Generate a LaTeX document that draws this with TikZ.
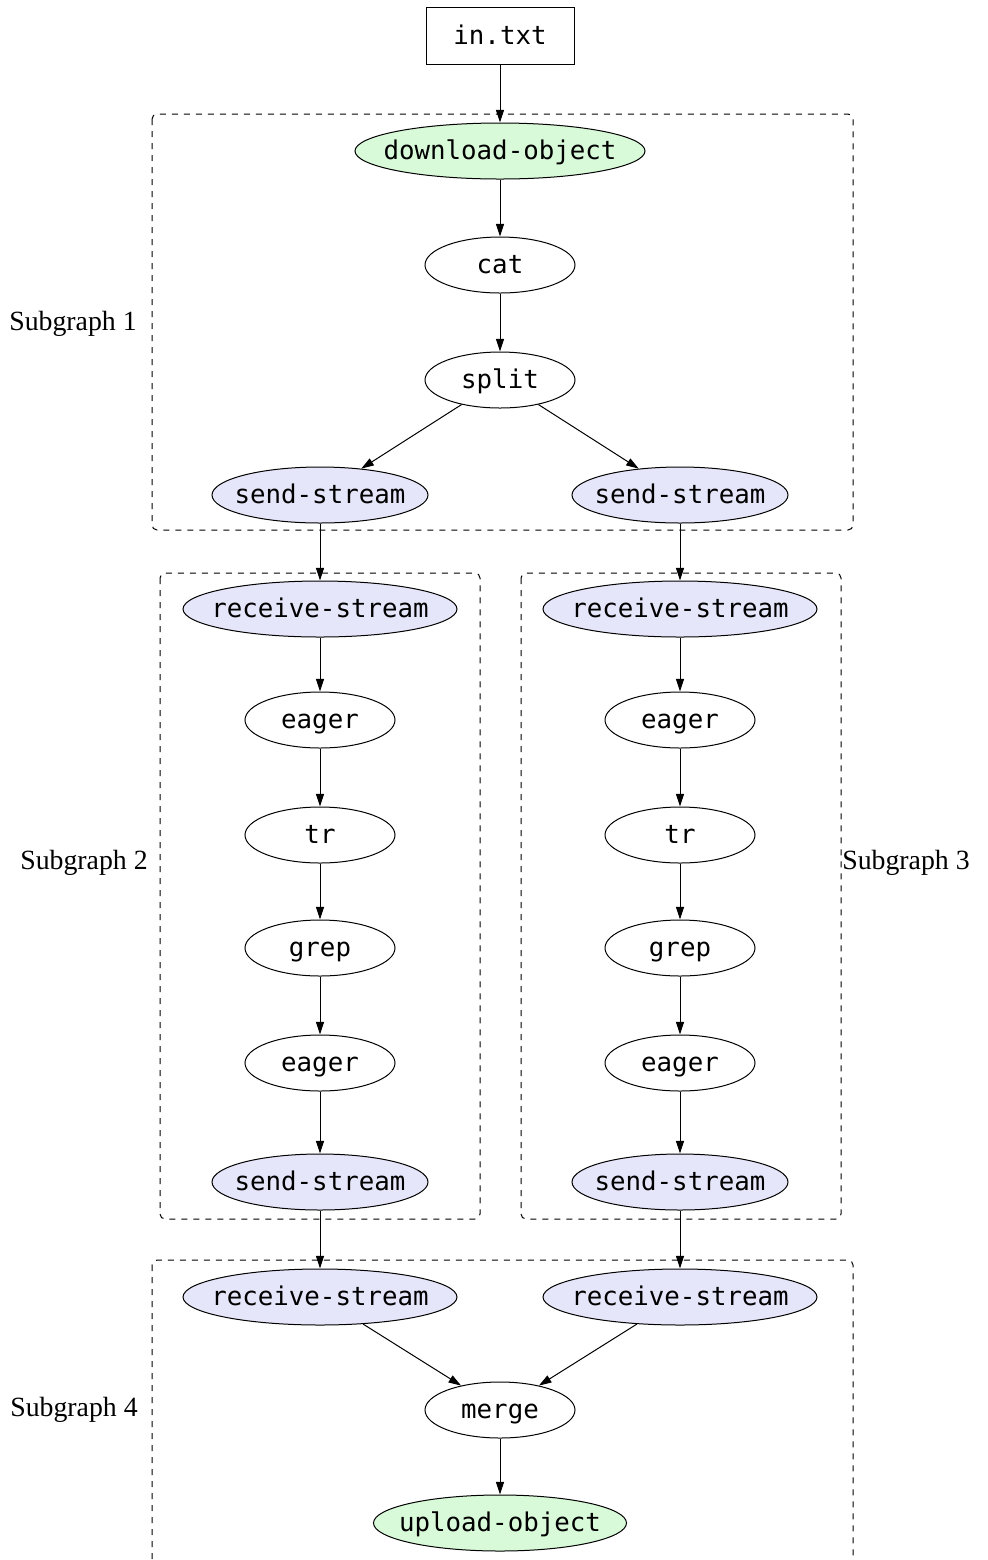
\documentclass[tikz,border=0pt]{standalone}
\usepackage{fontspec}
\setmainfont{Liberation Serif}
\setmonofont{DejaVu Sans Mono}
\usetikzlibrary{arrows.meta,shapes}
\definecolor{vert}{RGB}{217,250,217}
\definecolor{lavande}{RGB}{230,230,250}
\tikzstyle{proc}=[ellipse, draw=black, line width=0.5pt, inner sep=-10pt, minimum width=75pt, minimum height=28pt, text height=10pt, text depth=2pt, font=\fontsize{12.9}{15}\selectfont\ttfamily]
\tikzstyle{io}=[proc, fill=vert]
\tikzstyle{flux}=[proc, fill=lavande, minimum width=108pt]
\tikzstyle{fichier}=[rectangle, draw=black, line width=0.5pt, inner sep=0pt, minimum width=74pt, minimum height=28.5pt, text height=10pt, text depth=2pt, font=\fontsize{12.9}{15}\selectfont\ttfamily]
\tikzstyle{groupe}=[draw, dashed, rounded corners=2.5pt, line width=0.5pt]
\tikzstyle{etiq}=[font=\fontsize{13.9}{16}\selectfont]
\newcommand{\fl}[2]{ \draw[->] (#1) -- (#2); }

\begin{document}
\begin{tikzpicture}[x=0.5pt,y=-0.5pt,>={Triangle[length=6.3pt,width=4pt]},line width=0.5pt]
 \useasboundingbox (0,0) rectangle (987,1560);
 \clip (0,0) rectangle (987,1560);

 % clusters
 \draw[groupe] (152,114) rectangle (853,530);
 \draw[groupe] (160,573) rectangle (480,1219);
 \draw[groupe] (521,573) rectangle (841,1219);
 \draw[groupe] (152,1260) rectangle (853,1620);

 \node[etiq] (L1) at (73,324) {Subgraph 1};
 \node[etiq] (L2) at (84,863) {Subgraph 2};
 \node[etiq] (L3) at (906,863) {Subgraph 3};
 \node[etiq] (L4) at (74,1410) {Subgraph 4};

 \node[fichier] (in) at (500,36) {in.txt};
 \node[io, minimum width=145pt] (down) at (500,151) {download-object};
 \node[proc] (cat) at (500,265) {cat};
 \node[proc] (split) at (500,380) {split};
 \fl{in}{down} \fl{down}{cat} \fl{cat}{split}

 \foreach \c/\x in {a/320,b/680}%
 {%
     \node[flux] (S\c) at (\x,495) {send-stream};
     \node[flux, minimum width=137pt] (R\c) at (\x,609) {receive-stream};
     \node[proc] (E\c) at (\x,720) {eager};
     \node[proc] (T\c) at (\x,835) {tr};
     \node[proc] (G\c) at (\x,948) {grep};
     \node[proc] (F\c) at (\x,1063) {eager};
     \node[flux] (B\c) at (\x,1182) {send-stream};
     \node[flux, minimum width=137pt] (Q\c) at (\x,1297) {receive-stream};
     \fl{split}{S\c} \fl{S\c}{R\c} \fl{R\c}{E\c} \fl{E\c}{T\c}
     \fl{T\c}{G\c} \fl{G\c}{F\c} \fl{F\c}{B\c} \fl{B\c}{Q\c}
 }

 \node[proc] (merge) at (500,1410) {merge};
 \node[io, minimum width=126.5pt] (up) at (500,1523) {upload-object};
 \fl{Qa}{merge} \fl{Qb}{merge} \fl{merge}{up}

\end{tikzpicture}
\end{document}
